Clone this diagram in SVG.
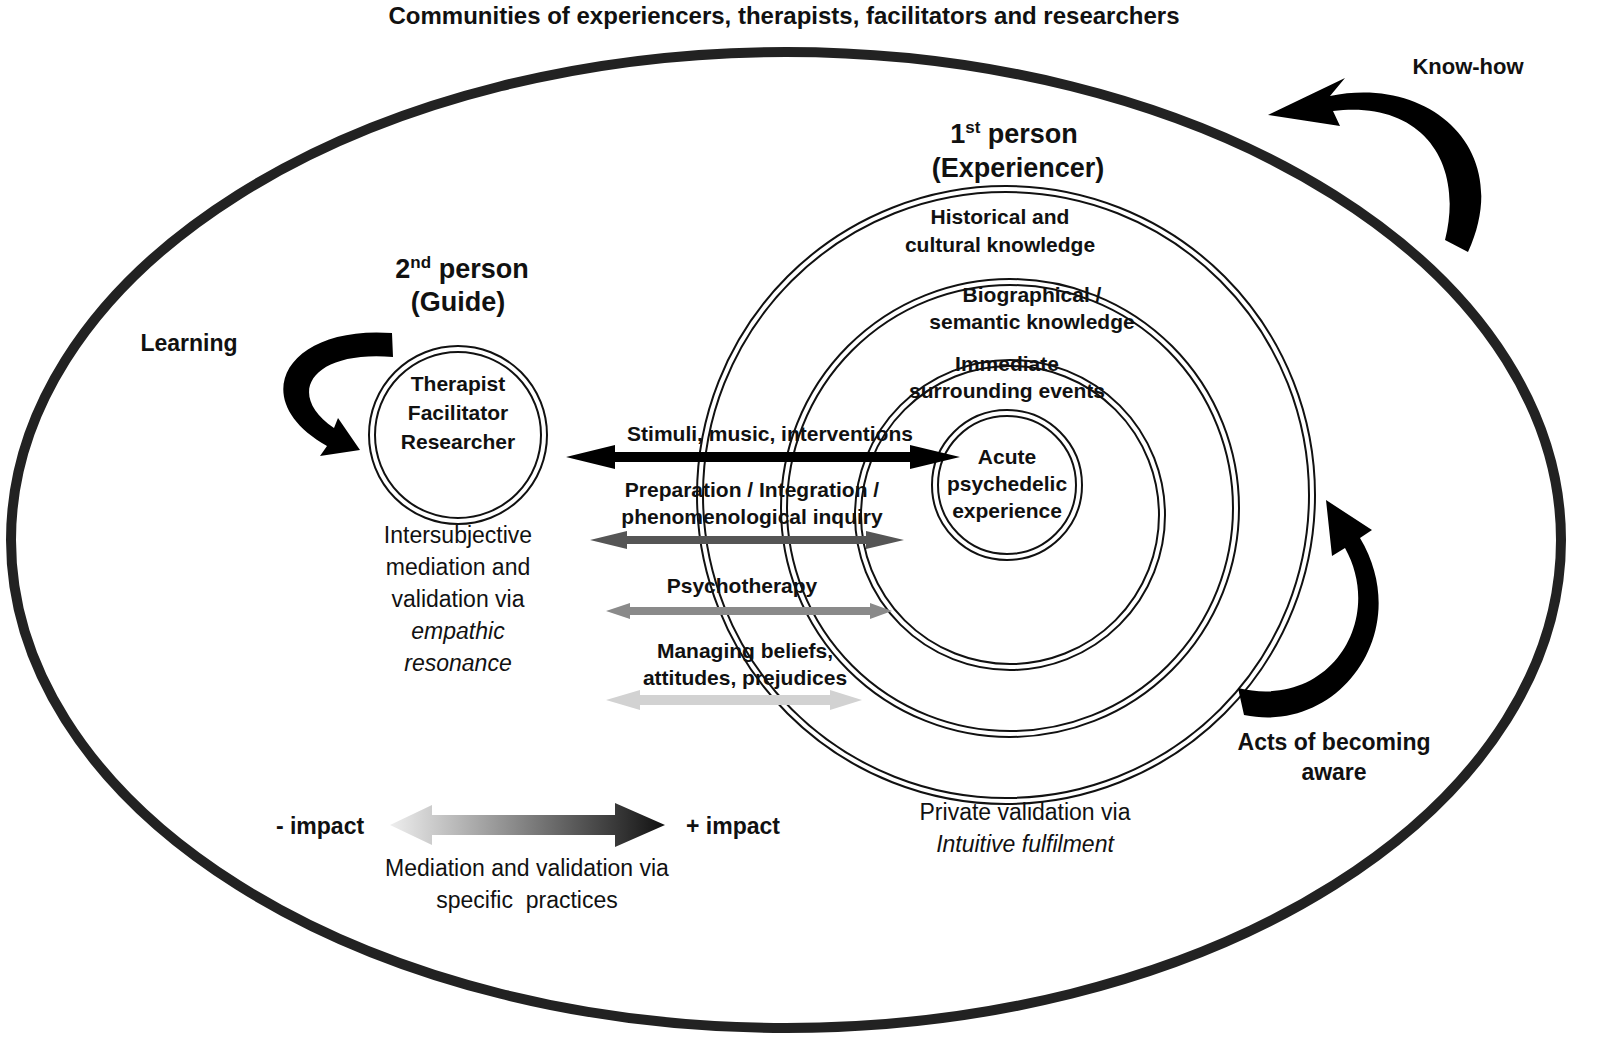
<svg xmlns="http://www.w3.org/2000/svg" width="1600" height="1051" viewBox="0 0 1600 1051">
<defs>
<style>
text{font-family:"Liberation Sans",Arial,sans-serif;fill:#111}
.b{font-weight:bold;font-size:21px}
.h{font-weight:bold;font-size:27px}
.n{font-size:23px}
.dc{fill:none;stroke:#111;stroke-width:8}
.dw{fill:none;stroke:#fff;stroke-width:4}
</style>
<linearGradient id="g" x1="0" x2="1" y1="0" y2="0"><stop offset="0" stop-color="#eee"/><stop offset="1" stop-color="#111"/></linearGradient>
</defs>
<rect width="1600" height="1051" fill="#fff"/>
<text class="b" x="784" y="24" text-anchor="middle" style="font-size:24px">Communities of experiencers, therapists, facilitators and researchers</text>
<ellipse id="community" cx="786" cy="540" rx="775" ry="488" fill="none" stroke="#222" stroke-width="10"/>
<g id="experiencer">
<circle class="dc" cx="1006" cy="495" r="306"/><circle class="dw" cx="1006" cy="495" r="306"/>
<circle class="dc" cx="1010" cy="508" r="226"/><circle class="dw" cx="1010" cy="508" r="226"/>
<circle class="dc" cx="1010" cy="515" r="152"/><circle class="dw" cx="1010" cy="515" r="152"/>
<circle class="dc" cx="1007" cy="485" r="72"/><circle class="dw" cx="1007" cy="485" r="72"/>
<text class="h" x="1014" y="143" text-anchor="middle">1<tspan font-size="17" dy="-10">st</tspan><tspan dy="10"> person</tspan></text>
<text class="h" x="1018" y="177" text-anchor="middle">(Experiencer)</text>
<text class="b" x="1000" y="224" text-anchor="middle">Historical and</text>
<text class="b" x="1000" y="252" text-anchor="middle">cultural knowledge</text>
<text class="b" x="1032" y="302" text-anchor="middle">Biographical /</text>
<text class="b" x="1032" y="329" text-anchor="middle">semantic knowledge</text>
<text class="b" x="1007" y="371" text-anchor="middle">Immediate</text>
<text class="b" x="1007" y="398" text-anchor="middle">surrounding events</text>
<text class="b" x="1007" y="464" text-anchor="middle">Acute</text>
<text class="b" x="1007" y="491" text-anchor="middle">psychedelic</text>
<text class="b" x="1007" y="518" text-anchor="middle">experience</text>
</g>
<g id="guide">
<circle class="dc" cx="458" cy="435" r="86"/><circle class="dw" cx="458" cy="435" r="86"/>
<text class="h" x="462" y="278" text-anchor="middle">2<tspan font-size="17" dy="-10">nd</tspan><tspan dy="10"> person</tspan></text>
<text class="h" x="458" y="311" text-anchor="middle">(Guide)</text>
<text class="b" x="458" y="391" text-anchor="middle">Therapist</text>
<text class="b" x="458" y="420" text-anchor="middle">Facilitator</text>
<text class="b" x="458" y="449" text-anchor="middle">Researcher</text>
<text class="n" x="458" y="543" text-anchor="middle">Intersubjective</text>
<text class="n" x="458" y="575" text-anchor="middle">mediation and</text>
<text class="n" x="458" y="607" text-anchor="middle">validation via</text>
<text class="n" x="458" y="639" text-anchor="middle" font-style="italic">empathic</text>
<text class="n" x="458" y="671" text-anchor="middle" font-style="italic">resonance</text>
</g>
<g id="connectors">
<polygon fill="#000" points="566,457 615,445 615,452 910,452 910,445 960,457 910,469 910,462 615,462 615,469"/>
<polygon fill="#555" points="590,540 627,531 627,536 866,536 866,531 904,540 866,549 866,544 627,544 627,549"/>
<polygon fill="#8a8a8a" points="606,611 630,603 630,607 870,607 870,603 892,611 870,619 870,615 630,615 630,619"/>
<polygon fill="#d2d2d2" points="606,700 640,690 640,695 830,695 830,690 862,700 830,710 830,705 640,705 640,710"/>
<polygon fill="url(#g)" points="390,825 432,805 432,815 615,815 615,803 665,825 615,847 615,835 432,835 432,845"/>
<path d="M392,333 C285,325 245,400 327,446 L320,456 L360,450 L338,418 L334,428 C285,395 310,350 393,357 Z" fill="#000"/>
<path d="M1468,252 C1515,150 1430,75 1330,96 L1345,78 L1268,115 L1340,126 L1333,111 C1420,100 1465,160 1445,240 Z" fill="#000"/>
<path d="M1238,688 C1330,710 1385,620 1345,548 L1332,556 L1326,500 L1372,530 L1360,538 C1415,630 1340,735 1244,715 Z" fill="#000"/>
</g>
<g id="labels">
<text class="b" x="770" y="441" text-anchor="middle">Stimuli, music, interventions</text>
<text class="b" x="752" y="497" text-anchor="middle">Preparation / Integration /</text>
<text class="b" x="752" y="524" text-anchor="middle">phenomenological inquiry</text>
<text class="b" x="742" y="593" text-anchor="middle">Psychotherapy</text>
<text class="b" x="745" y="658" text-anchor="middle">Managing beliefs,</text>
<text class="b" x="745" y="685" text-anchor="middle">attitudes, prejudices</text>
<text class="b" x="189" y="351" text-anchor="middle" style="font-size:23px">Learning</text>
<text class="b" x="1468" y="74" text-anchor="middle" style="font-size:22px">Know-how</text>
<text class="b" x="1334" y="750" text-anchor="middle" style="font-size:23px">Acts of becoming</text>
<text class="b" x="1334" y="780" text-anchor="middle" style="font-size:23px">aware</text>
<text class="b" x="320" y="834" text-anchor="middle" style="font-size:23px">- impact</text>
<text class="b" x="733" y="834" text-anchor="middle" style="font-size:23px">+ impact</text>
<text class="n" x="527" y="876" text-anchor="middle">Mediation and validation via</text>
<text class="n" x="527" y="908" text-anchor="middle" xml:space="preserve">specific  practices</text>
<text class="n" x="1025" y="820" text-anchor="middle">Private validation via</text>
<text class="n" x="1025" y="852" text-anchor="middle" font-style="italic">Intuitive fulfilment</text>
</g>
</svg>
